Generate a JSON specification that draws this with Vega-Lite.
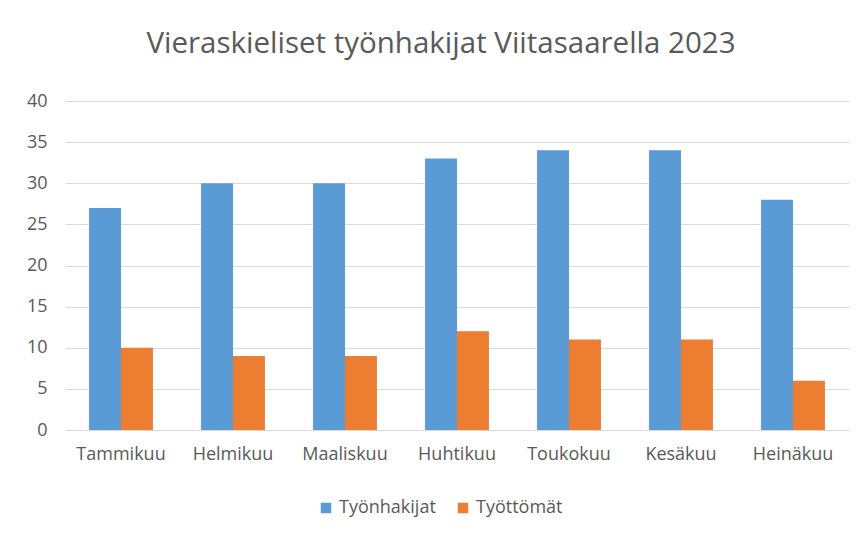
{
  "$schema": "https://vega.github.io/schema/vega-lite/v6.json",
  "autosize": "none",
  "width": 784,
  "height": 329,
  "padding": {"left": 65, "top": 101, "right": 13, "bottom": 105},
  "background": "white",
  "title": {
    "text": "Vieraskieliset työnhakijat Viitasaarella 2023",
    "font": "Open Sans",
    "fontSize": 29.5,
    "fontWeight": "normal",
    "color": "#595959",
    "anchor": "middle",
    "offset": 33,
    "dx": -16
  },
  "data": {
    "values": [
      {"kuukausi": "Tammikuu", "sarja": "Työnhakijat", "arvo": 27},
      {"kuukausi": "Tammikuu", "sarja": "Työttömät", "arvo": 10},
      {"kuukausi": "Helmikuu", "sarja": "Työnhakijat", "arvo": 30},
      {"kuukausi": "Helmikuu", "sarja": "Työttömät", "arvo": 9},
      {"kuukausi": "Maaliskuu", "sarja": "Työnhakijat", "arvo": 30},
      {"kuukausi": "Maaliskuu", "sarja": "Työttömät", "arvo": 9},
      {"kuukausi": "Huhtikuu", "sarja": "Työnhakijat", "arvo": 33},
      {"kuukausi": "Huhtikuu", "sarja": "Työttömät", "arvo": 12},
      {"kuukausi": "Toukokuu", "sarja": "Työnhakijat", "arvo": 34},
      {"kuukausi": "Toukokuu", "sarja": "Työttömät", "arvo": 11},
      {"kuukausi": "Kesäkuu", "sarja": "Työnhakijat", "arvo": 34},
      {"kuukausi": "Kesäkuu", "sarja": "Työttömät", "arvo": 11},
      {"kuukausi": "Heinäkuu", "sarja": "Työnhakijat", "arvo": 28},
      {"kuukausi": "Heinäkuu", "sarja": "Työttömät", "arvo": 6}
    ]
  },
  "mark": {"type": "bar"},
  "encoding": {
    "x": {
      "field": "kuukausi",
      "type": "nominal",
      "sort": null,
      "scale": {"paddingInner": 0.43, "paddingOuter": 0.215},
      "axis": {
        "title": null,
        "labelAngle": 0,
        "labelFont": "Open Sans",
        "labelFontSize": 18,
        "labelColor": "#595959",
        "labelPadding": 15,
        "ticks": false,
        "domain": false
      }
    },
    "xOffset": {"field": "sarja", "type": "nominal", "sort": ["Työnhakijat", "Työttömät"]},
    "y": {
      "field": "arvo",
      "type": "quantitative",
      "scale": {"domain": [0, 40]},
      "axis": {
        "title": null,
        "values": [0, 5, 10, 15, 20, 25, 30, 35, 40],
        "labelFont": "Open Sans",
        "labelFontSize": 18,
        "labelColor": "#595959",
        "labelPadding": 18,
        "ticks": false,
        "domain": false,
        "gridColor": "#d9d9d9",
        "gridWidth": 1
      }
    },
    "color": {
      "field": "sarja",
      "type": "nominal",
      "sort": ["Työnhakijat", "Työttömät"],
      "scale": {"domain": ["Työnhakijat", "Työttömät"], "range": ["#5b9bd5", "#ed7d31"]},
      "legend": {
        "title": null,
        "orient": "none",
        "legendX": 252,
        "legendY": 398,
        "direction": "horizontal",
        "symbolType": "square",
        "symbolSize": 110,
        "symbolStrokeWidth": 0,
        "labelFont": "Open Sans",
        "labelFontSize": 18,
        "labelColor": "#595959",
        "columnPadding": 18,
        "labelOffset": 4
      }
    }
  },
  "config": {
    "view": {"stroke": null}
  }
}
